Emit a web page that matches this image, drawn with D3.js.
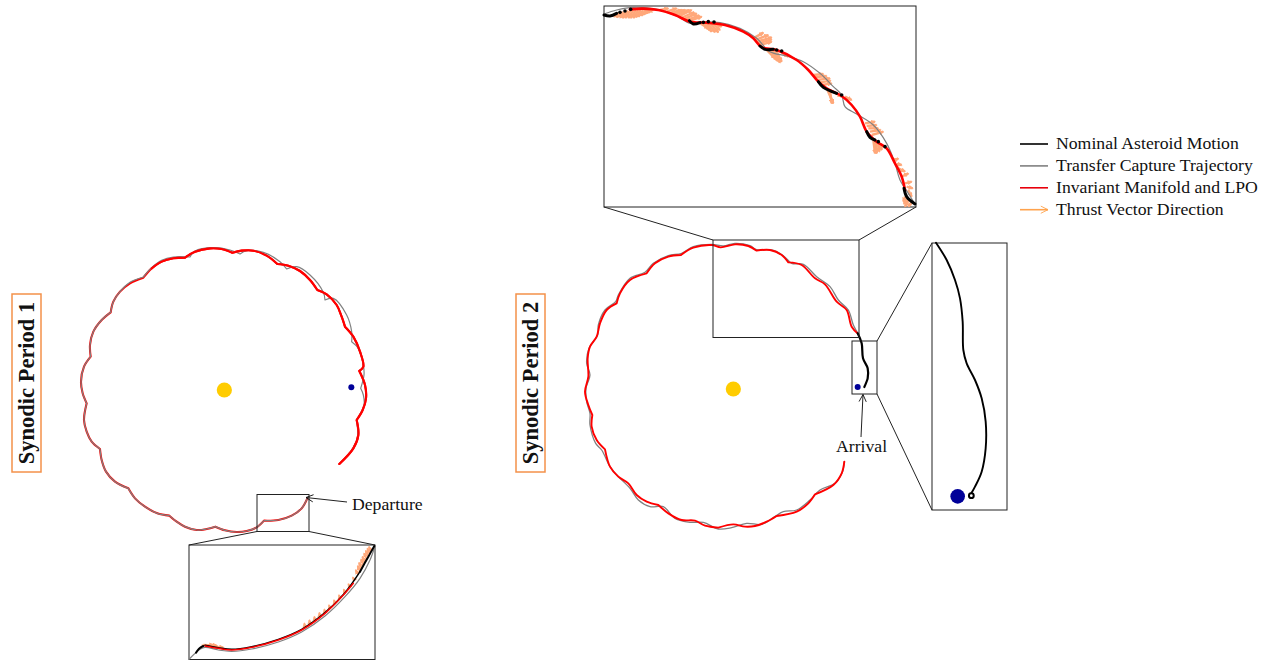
<!DOCTYPE html>
<html>
<head>
<meta charset="utf-8">
<script src="https://cdn.jsdelivr.net/npm/d3@7"></script>
<style>
  html, body { margin: 0; padding: 0; background: #fff; }
  text { font-family: "Liberation Serif", serif; fill: #111; }
</style>
</head>
<body>
<div id="my_dataviz"></div>
<script>

// Synodic period 1, whole orbit
var redA = [[712,790],[695,820],[665,842],[625,855],[582,857],[560,877],[530,888],[500,891],[465,886],[436,875],[410,882],[380,885],[345,875],[320,860],[298,842],[262,835],[225,815],[195,790],[175,760],[135,740],[108,710],[95,675],[90,642],[65,620],[50,590],[42,555],[50,505],[38,475],[33,440],[42,395],[62,365],[60,330],[70,290],[95,255],[122,232],[130,200],[150,170],[180,145],[220,128],[245,100],[275,80],[310,70],[345,68],[375,50],[420,40],[455,42],[487,53],[515,47],[550,47],[590,62],[622,87],[655,92],[690,108],[720,135],[742,165],[770,178],[800,210],[815,245],[825,275],[850,305],[870,350],[880,395],[868,408],[885,450],[888,490],[878,525],[860,555],[865,600],[850,640],[808,687]]
var grayA = [[712,790],[695,820],[665,842],[625,855],[582,857],[560,877],[530,888],[500,891],[465,886],[436,875],[410,882],[380,885],[345,875],[320,860],[298,842],[262,835],[225,815],[195,790],[175,760],[135,740],[108,710],[95,675],[90,642],[65,620],[50,590],[42,555],[50,505],[38,475],[33,440],[42,395],[62,365],[60,330],[70,290],[95,255],[122,232],[130,200],[150,170],[180,142],[220,126],[245,98],[275,76],[310,66],[360,66],[375,48],[430,38],[480,45],[510,57],[530,47],[580,52],[630,80],[650,102],[680,95],[720,120],[760,172],[765,195],[790,190],[830,240],[845,290],[845,320],[865,340],[880,390],[882,420],[872,460],[880,480],[882,510],[860,555],[862,610],[845,645],[808,687]]
var cuspsA = [[582,857],[436,875],[298,842],[175,760],[90,642],[50,505],[62,365],[122,232],[220,128],[345,68],[487,53],[622,87],[742,165],[825,275],[868,408],[860,555],[360,66],[510,57],[650,102],[765,195],[845,320],[872,460],[220,126]]

// Synodic period 2, whole orbit
var redB = [[808,680],[800,715],[775,750],[720,778],[700,805],[665,830],[605,843],[575,860],[540,873],[510,875],[475,868],[430,878],[390,872],[360,857],[320,855],[280,835],[250,810],[215,800],[185,780],[160,745],[130,725],[105,695],[90,643],[65,615],[50,575],[52,540],[40,510],[30,470],[40,425],[38,370],[45,335],[65,305],[75,265],[95,225],[125,205],[135,175],[165,135],[215,115],[240,85],[280,65],[318,60],[355,38],[410,30],[437,37],[480,28],[520,33],[545,47],[585,45],[620,60],[640,82],[680,90],[720,130],[750,148],[785,200],[815,225],[830,275],[850,297]]
var grayB = [[808,680],[802,712],[780,745],[735,765],[705,795],[665,825],[625,830],[595,848],[560,868],[515,865],[470,878],[430,882],[385,862],[345,862],[300,850],[265,815],[225,815],[190,795],[165,760],[125,720],[105,695],[80,645],[62,625],[45,570],[45,535],[35,500],[33,460],[45,420],[35,385],[42,340],[68,300],[70,270],[90,225],[122,200],[130,180],[165,130],[210,112],[235,85],[280,62],[320,55],[355,35],[410,28],[445,33],[480,25],[525,32],[545,44],[590,45],[625,62],[650,85],[685,88],[725,125],[765,155],[790,195],[820,225],[835,270],[850,297]]
var blackB = [[848,295],[860,325],[864,370],[878,400],[878,430],[868,456]]
var cuspsB = [[720,778],[605,843],[430,878],[250,810],[90,643],[52,540],[125,205],[215,115],[318,60],[545,47],[640,82]]

// top inset
var redTop = [[90,28],[130,26],[175,30],[225,45],[270,65],[320,68],[375,75],[430,95],[460,115],[485,142],[530,150],[590,180],[625,210],[655,245],[680,265],[725,288],[755,315],[780,350],[800,395],[830,425],[860,445],[885,490],[905,530],[915,570]]
var grayTop = [[12,42],[50,30],[100,22],[170,28],[230,48],[270,70],[300,66],[360,68],[420,85],[470,115],[510,155],[560,168],[610,185],[660,220],[700,260],[725,285],[735,320],[770,342],[820,375],[860,430],[885,490],[900,540],[925,580],[945,612]]
var blackTop = [
  [[12,45],[30,48],[50,40]],
  [[268,62],[280,72],[300,68]],
  [[480,138],[495,148],[520,148]],
  [[655,245],[670,262],[710,280]],
  [[800,395],[810,412],[825,420]],
  [[912,565],[920,590],[945,612]]
]
var dotsTop = [[60,37],[75,33],[92,28],[310,67],[325,65],[342,66],[530,150],[545,153],[725,285],[835,425],[855,440]]
var thrustTop = [[60,38,42,50],[70,36,50,52],[78,34,60,53],[85,32,68,54],[92,31,76,54],[100,30,85,54],[108,30,92,54],[115,30,100,54],[122,30,108,52],[130,30,115,50],[138,30,124,47],[145,30,130,44],[152,30,138,40],[160,30,145,36],[180,30,205,25],[200,35,230,25],[212,38,245,30],[220,42,255,30],[228,46,268,30],[235,50,275,30],[243,54,283,36],[250,58,290,40],[256,62,298,46],[262,65,305,50],[300,70,325,85],[308,70,330,90],[315,70,335,95],[322,70,345,97],[330,70,355,97],[338,71,360,90],[345,72,365,80],[460,115,490,98],[465,120,505,105],[470,125,515,112],[475,130,515,118],[480,135,515,125],[500,150,525,175],[508,150,532,182],[515,150,540,188],[522,152,542,186],[530,155,545,185],[545,158,565,170],[640,225,670,222],[645,232,680,228],[650,240,690,235],[658,248,692,242],[665,255,695,250],[680,265,700,310],[685,268,698,310],[690,270,695,310],[700,275,725,290],[735,290,755,300],[795,370,825,365],[800,378,830,375],[805,385,835,385],[810,395,842,390],[815,405,850,395],[820,420,825,460],[825,422,828,460],[830,425,830,460],[835,428,838,455],[840,430,845,450],[885,480,895,475],[890,492,905,495],[895,505,915,515],[905,530,925,520],[915,550,935,545],[920,560,938,565],[925,570,935,590],[915,590,910,605],[920,595,912,612],[925,600,915,620],[935,605,925,620]]

// bottom inset
var redLow = [[60,468],[100,475],[140,480],[200,472],[280,450],[350,420],[420,370],[480,310],[505,280]]
var grayLow = [[13,507],[45,478],[60,472],[100,480],[140,484],[200,477],[280,456],[350,426],[420,378],[480,320],[525,265],[555,210],[570,168]]
var blackLow = [[[33,488],[42,476],[55,468]],[[525,245],[550,200],[568,168]]]
var blackLowThin = [[60,466],[100,473],[140,478],[200,470],[280,448],[350,418],[420,368],[480,308],[525,245]]
var thrustLow = [[50,466,85,464],[55,464,95,466],[60,466,100,470],[80,470,115,472],[360,412,358,400],[375,403,373,390],[390,392,388,380],[405,380,403,368],[420,368,418,358],[435,355,432,345],[450,340,447,330],[465,325,462,315],[480,308,476,298],[495,292,490,282],[510,272,503,262],[520,255,512,240],[525,245,518,228],[530,236,522,218],[535,226,528,208],[540,218,532,200],[545,208,537,190],[550,200,542,182],[555,192,547,175],[558,185,552,170]]

// right inset
var blackRight = [[33,23],[65,75],[90,135],[105,190],[113,260],[115,345],[125,385],[150,435],[170,490],[182,560],[182,640],[170,710],[150,755],[139,775]]

var legendLabels = ["Nominal Asteroid Motion", "Transfer Capture Trajectory", "Invariant Manifold and LPO", "Thrust Vector Direction"]
var legendColors = ["#000000", "#808080", "#e8000b", "#ffa34d"]

var red = "#ff0000", gray = "#808080", thrust = "#ffa87a", blue = "#000099", sun = "#ffcc00"

var svg = d3.select("#my_dataviz")
  .append("svg")
    .attr("width", 1269)
    .attr("height", 660)
    .style("display", "block")

var defs = svg.append("defs")

function arrowHead(id, color) {
  defs.append("marker")
      .attr("id", id)
      .attr("viewBox", "0 0 10 10")
      .attr("refX", 9).attr("refY", 5)
      .attr("markerWidth", 9).attr("markerHeight", 9)
      .attr("markerUnits", "userSpaceOnUse")
      .attr("orient", "auto")
    .append("path")
      .attr("d", "M1,1L9,5L1,9")
      .attr("fill", "none")
      .attr("stroke", color)
      .attr("stroke-width", 1)
}
arrowHead("head", "#111")
arrowHead("headOrange", legendColors[3])

defs.append("marker")
    .attr("id", "headThrust")
    .attr("viewBox", "0 0 10 10")
    .attr("refX", 8).attr("refY", 5)
    .attr("markerWidth", 5).attr("markerHeight", 5)
    .attr("markerUnits", "userSpaceOnUse")
    .attr("orient", "auto")
  .append("path")
    .attr("d", "M0,0L10,5L0,10Z")
    .attr("fill", thrust)

// each panel gets its own pair of scales
function panel(x0, x1, y0, y1, w, h) {
  return {
    x: d3.scaleLinear().domain([0, w]).range([x0, x1]),
    y: d3.scaleLinear().domain([0, h]).range([y0, y1])
  }
}
var orbitA = panel(70, 380, 235, 545, 930, 930)
var orbitB = panel(575, 885, 235, 545, 930, 930)
var top_ = panel(600, 920, 0, 215, 960, 645)
var low = panel(185, 380, 490, 660, 585, 510)
var right = panel(925, 1015, 235, 515, 270, 840)

// a point listed twice makes the spline turn sharply there
function withCusps(data, cusps) {
  var out = []
  data.forEach(function(d) {
    out.push(d)
    if (cusps.some(function(c) { return c[0] == d[0] && c[1] == d[1] })) out.push(d)
  })
  return out
}

function track(p, data, color, width) {
  var line = d3.line()
    .x(function(d) { return p.x(d[0]) })
    .y(function(d) { return p.y(d[1]) })
    .curve(d3.curveCatmullRom.alpha(0.5))
  svg.append("path")
    .attr("d", line(data))
    .attr("fill", "none")
    .attr("stroke", color)
    .attr("stroke-width", width)
    .attr("stroke-linejoin", "round")
    .attr("stroke-linecap", "round")
}

function dot(cx, cy, r, color) {
  svg.append("circle").attr("cx", cx).attr("cy", cy).attr("r", r).attr("fill", color)
}

function segments(p, data, color, width) {
  svg.selectAll("thrust")
    .data(data).enter()
    .append("line")
      .attr("x1", function(d) { return p.x(d[0]) })
      .attr("y1", function(d) { return p.y(d[1]) })
      .attr("x2", function(d) { return p.x(d[2]) })
      .attr("y2", function(d) { return p.y(d[3]) })
      .attr("stroke", color)
      .attr("stroke-width", width)
      .attr("marker-end", "url(#headThrust)")
}

function box(x, y, x2, y2, color, width) {
  svg.append("rect")
    .attr("x", x).attr("y", y).attr("width", x2 - x).attr("height", y2 - y)
    .attr("fill", "none").attr("stroke", color || "#222").attr("stroke-width", width || 1)
}

function rule(x1, y1, x2, y2, marker) {
  var l = svg.append("line")
    .attr("x1", x1).attr("y1", y1).attr("x2", x2).attr("y2", y2)
    .attr("stroke", "#222").attr("stroke-width", 1)
  if (marker) l.attr("marker-end", "url(#head)")
}

// orbits: on the lower half of period 1 the gray runs on top of the red,
// further round the red is on top
var redACusped = withCusps(redA, cuspsA)
track(orbitA, redACusped, red, 2.1)
track(orbitA, withCusps(grayA, cuspsA), gray, 1.2)
track(orbitA, redACusped.slice(48), red, 2.1)
track(orbitB, withCusps(grayB, cuspsB), gray, 1.3)
track(orbitB, withCusps(redB, cuspsB), red, 1.9)
track(orbitB, blackB, "#000", 2.2)

dot(orbitA.x(463), orbitA.y(465), 7.6, sun)
dot(orbitA.x(844), orbitA.y(457), 3, blue)
dot(orbitB.x(475), orbitB.y(462), 7.6, sun)
dot(orbitB.x(848), orbitB.y(456), 3, blue)

// zoom windows and their connectors
box(257, 494.5, 309, 531.5)
box(189, 545, 375, 659.5)
rule(257, 531.5, 189, 545)
rule(309, 531.5, 375, 545)

box(713, 240, 859, 337.5)
box(604, 6, 916, 207)
rule(713, 240, 604, 207)
rule(859, 240, 916, 207)

box(852, 341, 877, 394)
box(932, 243, 1007, 510)
rule(877, 341, 932, 243)
rule(877, 394, 932, 510)

// top inset
segments(top_, thrustTop, thrust, 2.4)
track(top_, grayTop, gray, 1.2)
track(top_, redTop, red, 2.6)
blackTop.forEach(function(s) { track(top_, s, "#000", 3) })
dotsTop.forEach(function(d) { dot(top_.x(d[0]), top_.y(d[1]), 1.8, "#000") })

// bottom inset
segments(low, thrustLow, thrust, 1.8)
track(low, grayLow, gray, 1.2)
track(low, blackLowThin, "#000", 1.5)
track(low, redLow, red, 1.5)
blackLow.forEach(function(s) { track(low, s, "#000", 2) })

// right inset
track(right, blackRight, "#000", 1.9)
dot(right.x(98), right.y(784), 7.3, blue)
svg.append("circle")
  .attr("cx", right.x(139)).attr("cy", right.y(782)).attr("r", 2.4)
  .attr("fill", "#fff").attr("stroke", "#000").attr("stroke-width", 2)

// annotations
rule(347, 502, 306, 497.5, true)
svg.append("text").attr("x", 352).attr("y", 510).style("font-size", "17.7px").text("Departure")
rule(861, 437, 863, 394.5, true)
svg.append("text").attr("x", 836).attr("y", 452).style("font-size", "17.7px").text("Arrival")

// period labels
var periods = [{x: 12, name: "Synodic Period 1"}, {x: 516, name: "Synodic Period 2"}]
periods.forEach(function(d) {
  box(d.x, 294, d.x + 29, 472, "#f4914a", 1.5)
  svg.append("text")
    .attr("transform", "translate(" + (d.x + 22) + ",383) rotate(-90)")
    .attr("text-anchor", "middle")
    .style("font-size", "22.5px")
    .style("font-weight", "bold")
    .text(d.name)
})

// legend
legendLabels.forEach(function(name, i) {
  var y = 144 + i * 21.9
  var l = svg.append("line")
    .attr("x1", 1020).attr("x2", 1048).attr("y1", y).attr("y2", y)
    .attr("stroke", legendColors[i]).attr("stroke-width", 1.6)
  if (i == 3) l.attr("marker-end", "url(#headOrange)")
  svg.append("text").attr("x", 1056).attr("y", y + 5).style("font-size", "17.7px").text(name)
})
</script>
</body>
</html>
